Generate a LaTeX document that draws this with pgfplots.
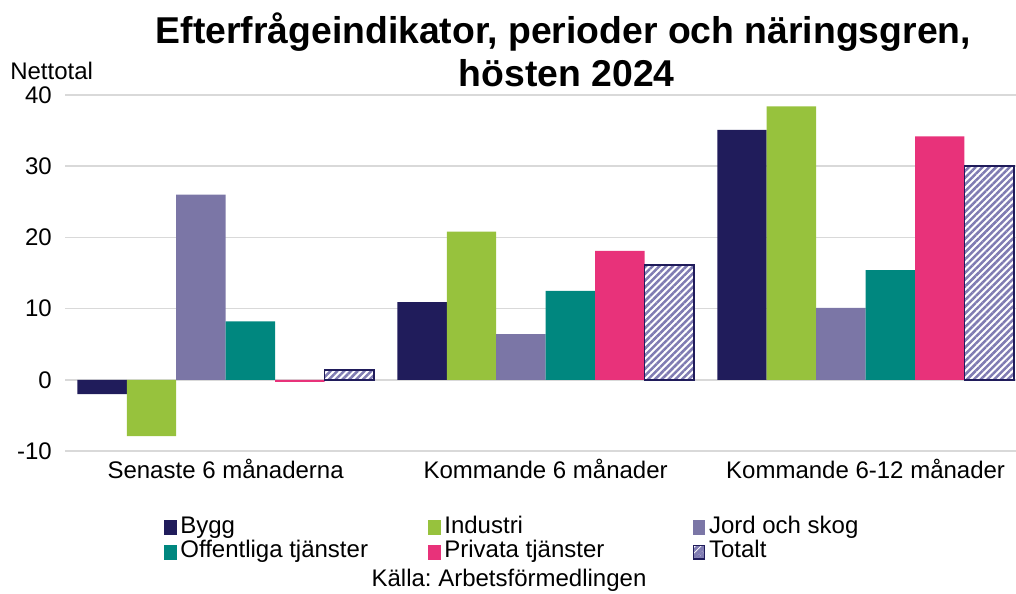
\documentclass[border=0pt]{standalone}
\usepackage{fontspec}
\setmainfont{Liberation Sans}
\usepackage{pgfplots}
\pgfplotsset{compat=1.18}
\usetikzlibrary{patterns.meta}
\definecolor{bygg}{HTML}{201C5B}
\definecolor{industri}{HTML}{97C23D}
\definecolor{jord}{HTML}{7B76A6}
\definecolor{offentliga}{HTML}{00877F}
\definecolor{privata}{HTML}{E8327A}
\definecolor{hatchc}{HTML}{7F7BB2}
\definecolor{gridc}{HTML}{D9D9D9}
\newcommand{\legbox}[1]{\makebox[186pt][l]{#1}}
\frenchspacing
\begin{document}
\begin{tikzpicture}
\useasboundingbox (0pt,0pt) rectangle (762pt,-444.75pt);
\begin{axis}[
  at={(48.75pt,-338.25pt)}, anchor=south west,
  scale only axis, width=713.25pt, height=267pt,
  ybar=0pt, bar width=0.1545,
  xmin=-0.502, xmax=2.47, ymin=-10, ymax=40,
  ytick={-10,0,10,20,30,40}, xtick={0,1,2},
  xticklabels={Senaste 6 månaderna, Kommande 6 månader, Kommande 6-12 månader},
  ymajorgrids, grid style={gridc, line width=1.1pt},
  axis line style={draw=none}, major tick length=0pt,
  tick label style={font=\fontsize{18}{20}\selectfont},
  yticklabel style={anchor=east, inner sep=0pt, xshift=-9.75pt},
  xticklabel style={anchor=base, inner sep=0pt, yshift=-20.25pt},
  /pgf/number format/assume math mode=true,
  legend columns=3,
  legend image code/.code={\fill[#1] (0pt,-5.5pt) rectangle (9.5pt,5.5pt);},
  legend style={at={(0.1,-0.174)}, anchor=north west, draw=none, fill=none,
    font=\fontsize{18}{20}\selectfont,
    nodes={inner sep=0pt, text height=13pt, text depth=4.5pt},
    column sep=0pt, row sep=1pt,
    /tikz/every odd column/.append style={column sep=2.5pt}},
]
\addplot[fill=bygg, draw=none] coordinates {(0,-2.0) (1,10.9) (2,35.1)};
\addlegendentry{\legbox{Bygg}}
\addplot[fill=industri, draw=none] coordinates {(0,-7.9) (1,20.8) (2,38.4)};
\addlegendentry{\legbox{Industri}}
\addplot[fill=jord, draw=none] coordinates {(0,26.0) (1,6.4) (2,10.1)};
\addlegendentry{\legbox{Jord och skog}}
\addplot[fill=offentliga, draw=none] coordinates {(0,8.2) (1,12.5) (2,15.4)};
\addlegendentry{\legbox{Offentliga tjänster}}
\addplot[fill=privata, draw=none] coordinates {(0,-0.3) (1,18.1) (2,34.2)};
\addlegendentry{\legbox{Privata tjänster}}
\addplot[draw=bygg, line width=1.1pt, fill=white,
  postaction={pattern={Lines[angle=45,distance=3.6pt,line width=1.9pt]}, pattern color=hatchc},
  legend image code/.code={\draw[draw=bygg, line width=1pt, fill=white,
    postaction={pattern={Lines[angle=45,distance=3pt,line width=1.5pt]}, pattern color=hatchc}]
    (0.5pt,-5pt) rectangle (9pt,5pt);}]
  coordinates {(0,1.35) (1,16.1) (2,30.0)};
\addlegendentry{\legbox{Totalt}}
\end{axis}
\node[anchor=base, font=\fontsize{28}{30}\selectfont\bfseries] at (422.5pt,-32.25pt) {Efterfrågeindikator, perioder och näringsgren,};
\node[anchor=base, font=\fontsize{28}{30}\selectfont\bfseries] at (425pt,-64.5pt) {hösten 2024};
\node[anchor=base west, inner sep=0pt, font=\fontsize{18}{20}\selectfont] at (7.5pt,-59.25pt) {Nettotal};
\node[anchor=base, inner sep=0pt, font=\fontsize{18}{20}\selectfont] at (381.75pt,-440pt) {Källa: Arbetsförmedlingen};
\end{tikzpicture}
\end{document}
